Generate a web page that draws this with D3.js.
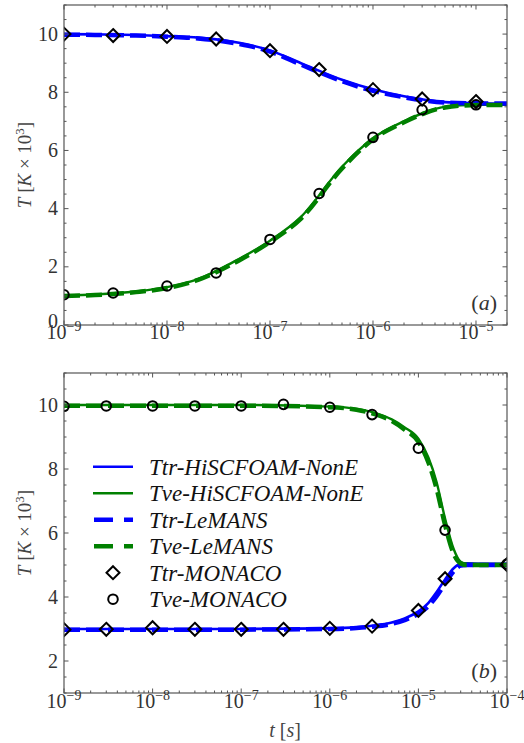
<html><head><meta charset="utf-8">
<script src="https://d3js.org/d3.v7.min.js"></script>
</head>
<body style="margin:0">
<svg id="chart" width="524" height="743"></svg>
<script>
// ---- data ----
// panel (a)
let tA = [1e-9, 2e-9, 5e-9, 1e-8, 2e-8, 5e-8, 1e-7, 2e-7, 5e-7, 1e-6, 2e-6, 5e-6, 1e-5, 2e-5];
let ttrHiA = [10.0, 9.99, 9.97, 9.93, 9.88, 9.7, 9.44, 9.0, 8.43, 8.1, 7.86, 7.66, 7.62, 7.6];
let tveHiA = [1.02, 1.05, 1.15, 1.3, 1.58, 2.27, 2.9, 3.72, 5.44, 6.42, 7.0, 7.5, 7.57, 7.57];
let ttrLeA = [9.98, 9.97, 9.95, 9.91, 9.85, 9.66, 9.4, 8.95, 8.38, 8.05, 7.83, 7.65, 7.62, 7.61];
let tveLeA = [1.0, 1.03, 1.13, 1.27, 1.55, 2.22, 2.85, 3.66, 5.38, 6.38, 6.97, 7.48, 7.56, 7.56];
let tMA = [1e-9, 3e-9, 1e-8, 3e-8, 1e-7, 3e-7, 1e-6, 3e-6, 1e-5];
let ttrMoA = [10.0, 9.95, 9.92, 9.83, 9.43, 8.78, 8.09, 7.77, 7.68];
let tveMoA = [1.04, 1.1, 1.34, 1.79, 2.94, 4.52, 6.45, 7.4, 7.57];

// panel (b)
let tB = [1e-9, 1e-8, 1e-7, 1e-6, 2e-6, 3e-6, 5e-6, 7e-6, 1e-5, 1.3e-5, 1.6e-5, 2e-5, 2.5e-5, 3e-5, 3.5e-5, 5e-5, 1e-4];
let ttrHiB = [3.0, 3.0, 3.0, 3.02, 3.05, 3.1, 3.2, 3.33, 3.55, 3.82, 4.15, 4.55, 4.9, 5.04, 5.05, 5.04, 5.04];
let tveHiB = [10.0, 10.0, 10.0, 9.95, 9.88, 9.78, 9.55, 9.3, 8.95, 8.35, 7.6, 6.45, 5.5, 5.1, 5.04, 5.03, 5.03];
let ttrLeB = [2.98, 2.98, 2.98, 3.0, 3.03, 3.07, 3.16, 3.28, 3.48, 3.72, 4.02, 4.42, 4.8, 4.98, 5.0, 5.0, 5.0];
let tveLeB = [9.98, 9.98, 9.98, 9.93, 9.85, 9.74, 9.5, 9.23, 8.85, 8.2, 7.4, 6.25, 5.35, 5.05, 5.0, 5.0, 5.0];
let tMB = [1e-9, 3e-9, 1e-8, 3e-8, 1e-7, 3e-7, 1e-6, 3e-6, 1e-5, 2e-5, 1e-4];
let ttrMoB = [2.98, 2.99, 3.04, 2.99, 2.99, 2.99, 3.02, 3.09, 3.58, 4.57, 5.01];
let tveMoB = [9.96, 9.97, 9.97, 9.97, 9.97, 10.02, 9.93, 9.7, 8.65, 6.09, 5.03];

let legendLabels = ["Ttr-HiSCFOAM-NonE", "Tve-HiSCFOAM-NonE", "Ttr-LeMANS", "Tve-LeMANS", "Ttr-MONACO", "Tve-MONACO"];

let svg = d3.select("#chart");
let blue = "#0000ff", green = "#008000";
let texts = [];   // text jobs, drawn last straight onto the svg

function diamondPath(s) {
  return "M0," + (-s) + "L" + s + ",0L0," + s + "L" + (-s) + ",0Z";
}

function drawPanel(p) {
  let x = d3.scaleLog().domain(p.xDomain).range([64, 507]);
  let y = d3.scaleLinear().domain(p.yDomain).range([p.bottom, p.top]);
  let g = svg.append("g");

  g.append("clipPath").attr("id", p.id + "clip")
    .append("rect").attr("x", 64).attr("y", p.top).attr("width", 443).attr("height", p.bottom - p.top);

  let plot = g.append("g").attr("clip-path", "url(#" + p.id + "clip)");
  let line = d3.line().curve(d3.curveMonotoneX)
    .x(d => x(d[0])).y(d => y(d[1]));

  // solid HiSCFOAM lines
  plot.append("path").datum(d3.zip(p.t, p.ttrHi)).attr("d", line)
    .attr("fill", "none").attr("stroke", blue).attr("stroke-width", 2.6);
  plot.append("path").datum(d3.zip(p.t, p.tveHi)).attr("d", line)
    .attr("fill", "none").attr("stroke", green).attr("stroke-width", 2.4);
  // dashed LeMANS lines
  plot.append("path").datum(d3.zip(p.t, p.ttrLe)).attr("d", line)
    .attr("fill", "none").attr("stroke", blue).attr("stroke-width", 4.5)
    .attr("stroke-dasharray", "16,6");
  plot.append("path").datum(d3.zip(p.t, p.tveLe)).attr("d", line)
    .attr("fill", "none").attr("stroke", green).attr("stroke-width", 4.5)
    .attr("stroke-dasharray", "16,6");

  // MONACO markers
  p.tM.forEach(function(t, i) {
    plot.append("path").attr("d", diamondPath(6.5))
      .attr("transform", "translate(" + x(t) + "," + y(p.ttrMo[i]) + ")")
      .attr("fill", "none").attr("stroke", "#000").attr("stroke-width", 2);
    plot.append("circle").attr("cx", x(t)).attr("cy", y(p.tveMo[i])).attr("r", 4.8)
      .attr("fill", "none").attr("stroke", "#000").attr("stroke-width", 2);
  });

  // frame
  g.append("rect").attr("x", 64).attr("y", p.top).attr("width", 443).attr("height", p.bottom - p.top)
    .attr("fill", "none").attr("stroke", "#555").attr("stroke-width", 1.2);

  // x ticks (log, inward, top and bottom)
  let e0 = Math.round(Math.log10(p.xDomain[0]));
  let e1 = Math.floor(Math.log10(p.xDomain[1]));
  for (let e = e0; e <= e1 + 1; e++) {
    for (let m = 1; m < 10; m++) {
      let v = m * Math.pow(10, e);
      if (v < p.xDomain[0] * 0.999 || v > p.xDomain[1] * 1.001) continue;
      let len = m === 1 ? 4.5 : 2.5;
      let xp = x(v);
      g.append("line").attr("x1", xp).attr("x2", xp).attr("y1", p.bottom).attr("y2", p.bottom - len)
        .attr("stroke", "#555").attr("stroke-width", 1);
      g.append("line").attr("x1", xp).attr("x2", xp).attr("y1", p.top).attr("y2", p.top + len)
        .attr("stroke", "#555").attr("stroke-width", 1);
      if (m === 1) {
        texts.push({x: xp, y: p.bottom + p.labGap, size: 20, anchor: "middle",
          parts: [["10"], ["\u2212" + (-e), 14, -8]]});
      }
    }
  }

  // y ticks (linear, major every 2, minor every 0.5)
  let ymin = Math.ceil(p.yDomain[0] * 2) / 2;
  for (let v = ymin; v <= p.yDomain[1] + 1e-9; v += 0.5) {
    let major = Math.abs(v / 2 - Math.round(v / 2)) < 1e-9;
    let len = major ? 4.5 : 2.5;
    let yp = y(v);
    g.append("line").attr("x1", 64).attr("x2", 64 + len).attr("y1", yp).attr("y2", yp)
      .attr("stroke", "#555").attr("stroke-width", 1);
    g.append("line").attr("x1", 507).attr("x2", 507 - len).attr("y1", yp).attr("y2", yp)
      .attr("stroke", "#555").attr("stroke-width", 1);
    if (major) {
      texts.push({x: 58, y: yp + (v === 0 ? 3 : 6.5), size: 20, anchor: "end", parts: [[String(v)]]});
    }
  }

  // y label
  texts.push({x: 0, y: 0, size: 19, anchor: "middle", fill: "#444",
    transform: "translate(31," + ((p.top + p.bottom) / 2) + ") rotate(-90)",
    parts: [["T", null, 0, true], [" ["], ["K", null, 0, true], [" \u00d7 10"], ["3", 13, -7], ["]", null, 7]]});

  // panel tag
  texts.push({x: 497, y: p.bottom - 15, size: 22, anchor: "end",
    parts: [["("], [p.tag, null, 0, true], [")"]]});
}

drawPanel({id: "a", tag: "a", xDomain: [1e-9, 2e-5], yDomain: [0, 11], top: 5, bottom: 325, labGap: 14,
  t: tA, ttrHi: ttrHiA, tveHi: tveHiA, ttrLe: ttrLeA, tveLe: tveLeA, tM: tMA, ttrMo: ttrMoA, tveMo: tveMoA});

drawPanel({id: "b", tag: "b", xDomain: [1e-9, 1e-4], yDomain: [1, 11], top: 373, bottom: 693, labGap: 15,
  t: tB, ttrHi: ttrHiB, tveHi: tveHiB, ttrLe: ttrLeB, tveLe: tveLeB, tM: tMB, ttrMo: ttrMoB, tveMo: tveMoB});

// x label
texts.push({x: 285, y: 737, size: 20, anchor: "middle", fill: "#444",
  parts: [["t", null, 0, true], [" ["], ["s", null, 0, true], ["]"]]});

// legend in panel (b)
legendLabels.forEach(function(name, i) {
  let yp = 466.7 + i * 26.5;
  if (i < 2) {
    svg.append("line").attr("x1", 93).attr("x2", 133).attr("y1", yp).attr("y2", yp)
      .attr("stroke", i === 0 ? blue : green).attr("stroke-width", i === 0 ? 2.6 : 2.4);
  } else if (i < 4) {
    svg.append("line").attr("x1", 94).attr("x2", 133).attr("y1", yp).attr("y2", yp)
      .attr("stroke", i === 2 ? blue : green).attr("stroke-width", 4.5)
      .attr("stroke-dasharray", "19,11");
  } else if (i === 4) {
    svg.append("path").attr("d", diamondPath(6.5)).attr("transform", "translate(113," + yp + ")")
      .attr("fill", "none").attr("stroke", "#000").attr("stroke-width", 2);
  } else {
    svg.append("circle").attr("cx", 113).attr("cy", yp).attr("r", 4.8)
      .attr("fill", "none").attr("stroke", "#000").attr("stroke-width", 2);
  }
  texts.push({x: 149, y: yp + 8, size: 23, anchor: "start", fill: "#111", italic: true, parts: [[name]]});
});

// all text straight onto the svg, each with its own family
texts.forEach(function(d) {
  let t = svg.append("text").attr("x", d.x).attr("y", d.y).attr("font-size", d.size)
    .style("font-family", "'Liberation Serif'")
    .attr("text-anchor", d.anchor).attr("fill", d.fill || "#333");
  if (d.transform) t.attr("transform", d.transform);
  if (d.italic) t.attr("font-style", "italic");
  if (d.parts.length === 1) {
    t.text(d.parts[0][0]);
  } else {
    d.parts.forEach(function(s) {
      let sp = t.append("tspan").style("font-family", "'Liberation Serif'").text(s[0]);
      if (s[1]) sp.attr("font-size", s[1]);
      if (s[2]) sp.attr("dy", s[2]);
      if (s[3]) sp.attr("font-style", "italic");
    });
  }
});
</script>
</body></html>
